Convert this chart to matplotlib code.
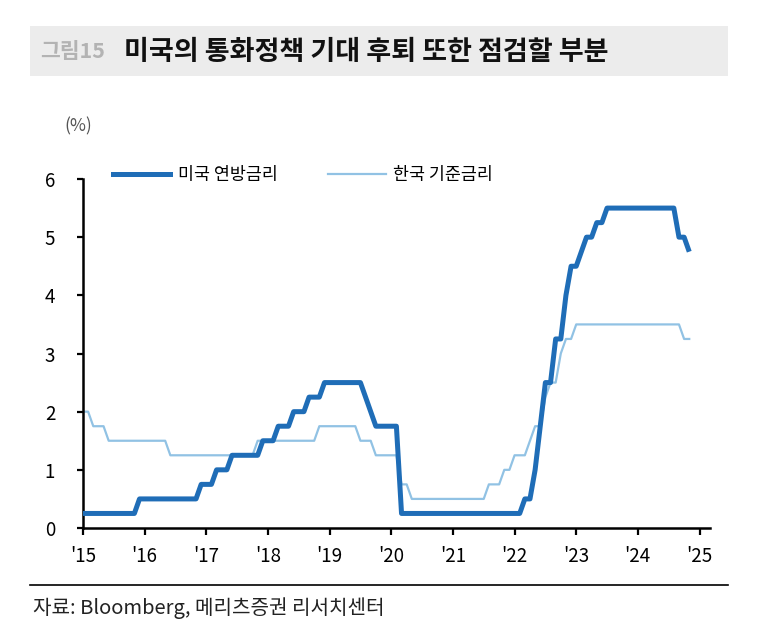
import numpy as np
import matplotlib
matplotlib.use('Agg')
import matplotlib.pyplot as plt
from matplotlib.patches import Rectangle
from matplotlib.lines import Line2D

plt.rcParams['font.family'] = ['Noto Sans CJK KR', 'DejaVu Sans']

# 월별 금리 (%), 2015년 1월 ~ 2024년 11월
us_rate = ([0.25] * 11 + [0.5] +                                   # 2015
           [0.5] * 11 + [0.75] +                                   # 2016
           [0.75] * 2 + [1.0] * 3 + [1.25] * 6 + [1.5] +           # 2017
           [1.5] * 2 + [1.75] * 3 + [2.0] * 3 + [2.25] * 3 + [2.5] +  # 2018
           [2.5] * 7 + [2.25, 2.0] + [1.75] * 3 +                  # 2019
           [1.75] * 2 + [0.25] * 10 +                              # 2020
           [0.25] * 12 +                                           # 2021
           [0.25] * 2 + [0.5] * 2 + [1.0, 1.75, 2.5, 2.5, 3.25, 3.25, 4.0, 4.5] +  # 2022
           [4.5, 4.75, 5.0, 5.0, 5.25, 5.25] + [5.5] * 6 +         # 2023
           [5.5] * 8 + [5.0, 5.0, 4.75])                           # 2024

kr_rate = ([2.0] * 2 + [1.75] * 3 + [1.5] * 7 +                    # 2015
           [1.5] * 5 + [1.25] * 7 +                                # 2016
           [1.25] * 10 + [1.5] * 2 +                               # 2017
           [1.5] * 10 + [1.75] * 2 +                               # 2018
           [1.75] * 6 + [1.5] * 3 + [1.25] * 3 +                   # 2019
           [1.25] * 2 + [0.75] * 2 + [0.5] * 8 +                   # 2020
           [0.5] * 7 + [0.75] * 3 + [1.0] * 2 +                    # 2021
           [1.25] * 3 + [1.5, 1.75, 1.75, 2.25, 2.5, 2.5, 3.0, 3.25, 3.25] +  # 2022
           [3.5] * 12 +                                            # 2023
           [3.5] * 9 + [3.25] * 2)                                 # 2024

years = list(range(2015, 2026))
year_labels = ["'" + str(y)[2:] for y in years]
x = 2015 + np.arange(len(us_rate)) / 12

us_color = '#1f6db7'
kr_color = '#91c2e4'

fig = plt.figure(figsize=(7.78, 6.4), dpi=100)

# 제목 배경
fig.patches.append(Rectangle((30 / 778, 1 - 76 / 640), 698 / 778, 50 / 640,
                             transform=fig.transFigure, facecolor='#ececec',
                             edgecolor='none', zorder=0))
fig.text(40 / 778, 1 - 52 / 640, '그림15', fontsize=15.5, fontweight='bold',
         color='#b3b3b3', va='center', ha='left')
fig.text(124 / 778, 1 - 52 / 640, '미국의 통화정책 기대 후퇴 또한 점검할 부분', fontsize=19.5,
         fontweight='bold', color='#111111', va='center', ha='left')

ax = fig.add_axes([83 / 778, 1 - 528 / 640, 627 / 778, 349 / 640])
ax.plot(x, kr_rate, color=kr_color, lw=1.6, zorder=2)
ax.plot(x, us_rate, color=us_color, lw=3.6, zorder=3, solid_capstyle='butt')

ax.set_xlim(2015, 2025.17)
ax.set_ylim(0, 6)
ax.set_xticks(years)
ax.set_xticklabels(year_labels)
ax.set_yticks(range(0, 7))
for s in ['top', 'right']:
    ax.spines[s].set_visible(False)
for s in ['left', 'bottom']:
    ax.spines[s].set_linewidth(1.8)
    ax.spines[s].set_color('black')
ax.tick_params(axis='x', direction='out', length=5, width=1.6, labelsize=13.5, pad=8)
ax.tick_params(axis='y', direction='out', length=4, width=1.6, labelsize=13.5, pad=16)
ax.patch.set_alpha(0)

fig.text(64 / 778, 1 - 126 / 640, '(%)', fontsize=12.5, color='#555555', va='center', ha='left')

handles = [Line2D([], [], color=us_color, lw=3.6), Line2D([], [], color=kr_color, lw=1.6)]
fig.legend(handles, ['미국 연방금리', '한국 기준금리'], loc='center left',
           bbox_to_anchor=(113 / 778, 1 - 175 / 640), ncol=2, frameon=False,
           fontsize=12.5, handlelength=3.3, columnspacing=2.9, handletextpad=0.45,
           borderpad=0, borderaxespad=0)

# 하단 구분선과 출처
fig.add_artist(Line2D([30 / 778, 728 / 778], [1 - 585 / 640, 1 - 585 / 640],
                      transform=fig.transFigure, color='black', lw=1.2))
fig.text(33 / 778, 1 - 608 / 640, '자료: Bloomberg, 메리츠증권 리서치센터', fontsize=14.5,
         color='#222222', va='center', ha='left')

fig.savefig('out.png', dpi=100)
